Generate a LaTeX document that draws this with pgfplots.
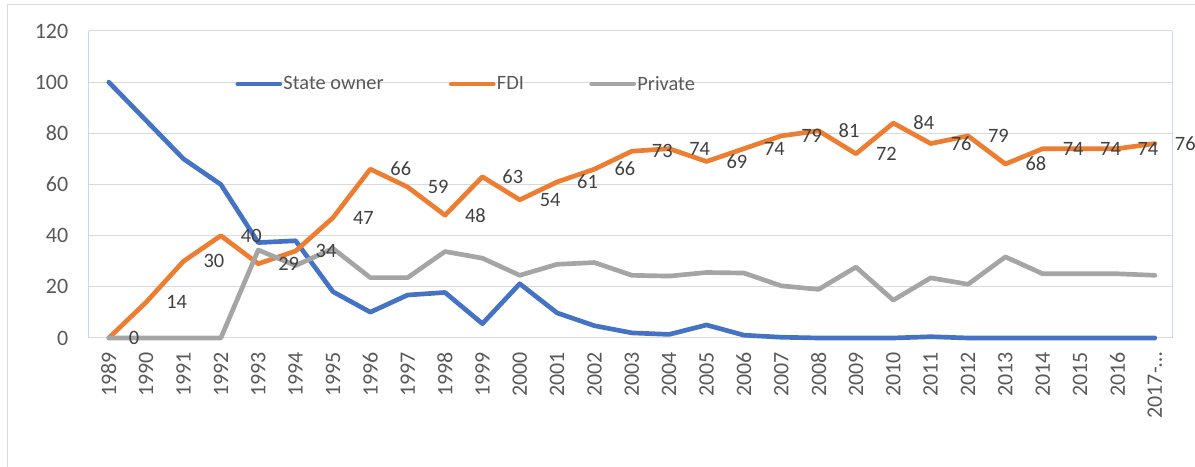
\documentclass[border=0pt]{standalone}
\usepackage{pgfplots}
\pgfplotsset{compat=1.18}
\usepackage{fontspec}
\setmainfont{Carlito}
\definecolor{cBlue}{HTML}{4472C4}
\definecolor{cOrange}{HTML}{ED7D31}
\definecolor{cGray}{HTML}{A5A5A5}
\definecolor{cGrid}{HTML}{D9D9D9}
\definecolor{cText}{HTML}{595959}
\definecolor{cLabel}{HTML}{404040}
\definecolor{cEdge}{HTML}{C9D7EE}
\begin{document}
\begin{tikzpicture}
\begin{axis}[
  scale only axis,
  width=812.25pt, height=230.25pt,
  xmin=-0.53, xmax=28.46,
  ymin=0, ymax=120,
  ytick={0,20,...,120},
  xtick={0,...,28},
  xticklabels={1989,1990,1991,1992,1993,1994,1995,1996,1997,1998,1999,2000,2001,2002,2003,2004,2005,2006,2007,2008,2009,2010,2011,2012,2013,2014,2015,2016,2017-…},
  major tick length=0pt,
  /pgf/number format/assume math mode=true,
  ymajorgrids,
  grid style={cGrid, line width=0.75pt},
  axis line style={draw=none},
  tick label style={font=\fontsize{16.5}{19}\selectfont, text=cText},
  yticklabel style={xshift=-12pt},
  xticklabel style={rotate=90, anchor=east, xshift=-7pt, yshift=0pt},
  clip=false,
  legend style={at={(0.348,0.827)}, anchor=center, draw=none, fill=none,
    font=\fontsize{15.3}{18}\selectfont, text=cText,
    nodes={inner xsep=1pt},
    /tikz/every even column/.append style={column sep=48pt}},
  legend columns=-1,
  legend image code/.code={\draw[#1, line width=3.5pt, line cap=round] (1.75pt,0pt) -- (33.25pt,0pt);},
]
\draw[cGrid, line width=0.75pt] (rel axis cs:0,0) -- (rel axis cs:1,0);
\draw[cEdge, line width=0.75pt] (rel axis cs:0,0) -- (rel axis cs:0,1);
\draw[cEdge, line width=0.75pt] (rel axis cs:1,0) -- (rel axis cs:1,1);

\addplot[cBlue, line width=3.5pt, line join=round, line cap=round] coordinates {
(0,100) (1,85) (2,70) (3,60) (4,37.3) (5,38) (6,18.1) (7,10.1) (8,16.8) (9,17.8)
(10,5.6) (11,21.2) (12,9.8) (13,4.8) (14,2) (15,1.4) (16,5.1) (17,1.1) (18,0.3) (19,0)
(20,0) (21,0) (22,0.5) (23,0) (24,0) (25,0) (26,0) (27,0) (28,0)};
\addlegendentry{State owner}

\addplot[cOrange, line width=3.5pt, line join=round, line cap=round,
  nodes near coords,
  every node near coord/.append style={anchor=west, xshift=10pt, yshift=0pt,
    font=\fontsize{15.3}{18}\selectfont, text=cLabel}] coordinates {
(0,0) (1,14) (2,30) (3,40) (4,29) (5,34) (6,47) (7,66) (8,59) (9,48)
(10,63) (11,54) (12,61) (13,66) (14,73) (15,74) (16,69) (17,74) (18,79) (19,81)
(20,72) (21,84) (22,76) (23,79) (24,68) (25,74) (26,74) (27,74) (28,76)};
\addlegendentry{FDI}

\addplot[cGray, line width=3.5pt, line join=round, line cap=round] coordinates {
(0,0) (1,0) (2,0) (3,0) (4,34.4) (5,28.3) (6,35) (7,23.6) (8,23.6) (9,33.8)
(10,31.2) (11,24.5) (12,28.8) (13,29.5) (14,24.5) (15,24.2) (16,25.6) (17,25.4) (18,20.4) (19,19)
(20,27.7) (21,14.8) (22,23.5) (23,21) (24,31.7) (25,25.1) (26,25.1) (27,25.1) (28,24.5)};
\addlegendentry{Private}
\end{axis}
\draw[cGrid, line width=0.75pt] (-60.75pt,-100pt) -- (-60.75pt,249.75pt) -- (840pt,249.75pt);
\pgfresetboundingbox
\useasboundingbox (-66.75pt,-96.75pt) rectangle (829.5pt,253.5pt);
\end{tikzpicture}
\end{document}
